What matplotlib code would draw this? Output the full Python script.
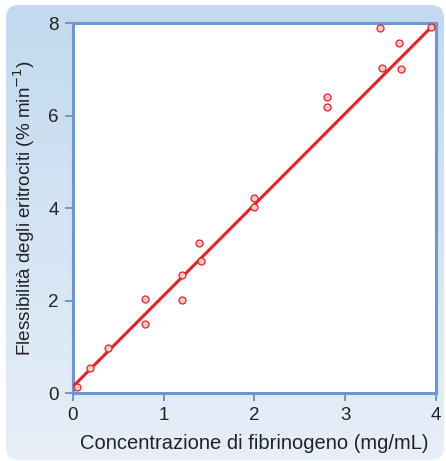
import numpy as np
import matplotlib
matplotlib.use("Agg")
import matplotlib.pyplot as plt
from matplotlib.patches import FancyBboxPatch

plt.rcParams["font.family"] = ["Liberation Sans", "DejaVu Sans"]

# fibrinogen concentration (mg/mL) vs erythrocyte flexibility (% min^-1)
conc = [0.05, 0.19, 0.39, 0.80, 0.80, 1.20, 1.20, 1.39, 1.41,
        2.00, 2.00, 2.80, 2.80, 3.38, 3.59, 3.40, 3.61, 3.95]
flex = [0.13, 0.54, 0.99, 2.04, 1.50, 2.02, 2.56, 3.24, 2.85,
        4.22, 4.03, 6.41, 6.20, 7.90, 7.57, 7.03, 7.01, 7.91]
fit_x = [0.02, 3.95]
fit_y = [0.18, 7.92]
xticks = [0, 1, 2, 3, 4]
yticks = [0, 2, 4, 6, 8]

W, H = 446, 461
BLUE = "#6c97cf"
RED = "#e8202a"
TXT = "#222222"

fig = plt.figure(figsize=(W / 100, H / 100), dpi=100)

# rounded, gradient background panel
bg = fig.add_axes([0, 0, 1, 1])
bg.set_xlim(0, W)
bg.set_ylim(H, 0)
bg.axis("off")
panel = FancyBboxPatch((6, 5), 444 - 6, 460 - 5, boxstyle="round,pad=0,rounding_size=13",
                       facecolor="none", edgecolor="none", transform=bg.transData)
bg.add_patch(panel)
top = np.array([0.757, 0.851, 0.937])
bot = np.array([0.906, 0.937, 0.973])
t = np.linspace(0, 1, 256)[:, None]
grad = (top * (1 - t) + bot * t)[:, None, :]
im = bg.imshow(grad, extent=[0, W, H, 0], aspect="auto", interpolation="bilinear")
im.set_clip_path(panel)

ax = fig.add_axes([72.7 / W, 1 - 393.3 / H, (436 - 72.7) / W, (393.3 - 23.3) / H])
ax.set_facecolor("white")
ax.plot(fit_x, fit_y, color=RED, lw=2.2, solid_capstyle="round", zorder=3)
ax.plot(conc, flex, "o", ms=5, mfc="#fbc9bf", mec=RED, mew=0.9, zorder=4)

ax.set_xlim(0, 4)
ax.set_ylim(0, 8)
ax.set_xticks(xticks)
ax.set_yticks(yticks)
for s in ax.spines.values():
    s.set_color(BLUE)
    s.set_linewidth(2.2)
ax.tick_params(direction="out", length=6, width=1.4, color=BLUE,
               labelsize=13.5, labelcolor=TXT, pad=4)
ax.set_xlabel("Concentrazione di fibrinogeno (mg/mL)", fontsize=14.5, color=TXT, labelpad=7)
ax.set_ylabel("Flessibilità degli eritrociti (% min$^{-1}$)", fontsize=13.6, color=TXT, labelpad=8)

fig.savefig("out.png", dpi=100)
